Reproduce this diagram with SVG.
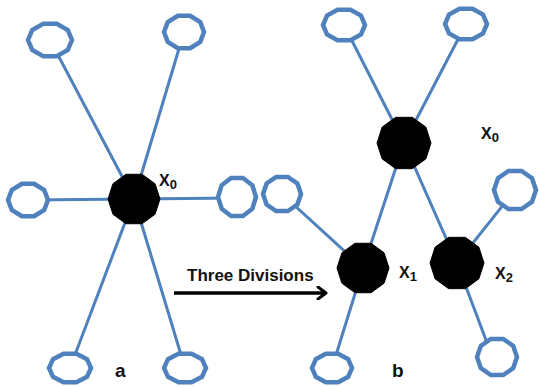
<svg xmlns="http://www.w3.org/2000/svg" xmlns:xlink="http://www.w3.org/1999/xlink" width="539" height="387" viewBox="0 0 539 387">
  <style>
    .edge { stroke: #4f81bd; stroke-width: 3; fill: none; }
    .leaf { fill: #ffffff; stroke: #4f81bd; stroke-width: 4.5; }
    .hub { fill: #000000; stroke: #000000; stroke-width: 1; }
    .lbl { font-family: "Liberation Sans", Arial, sans-serif; font-weight: bold; fill: #111111; }
    .xl { font-size: 16px; }
    .sub { font-size: 13px; }
  </style>
  <defs>
    <!-- unit decagon, scaled per node; stroke width stays constant -->
    <polygon id="dec" vector-effect="non-scaling-stroke"
      points="1,0 0.809,0.588 0.309,0.951 -0.309,0.951 -0.809,0.588 -1,0 -0.809,-0.588 -0.309,-0.951 0.309,-0.951 0.809,-0.588"/>
    <marker id="chev" viewBox="0 0 12 14" refX="10" refY="7" markerWidth="12" markerHeight="14" markerUnits="userSpaceOnUse" orient="auto">
      <path d="M2,1 L10,7 L2,13" fill="none" stroke="#000" stroke-width="3" stroke-linecap="round" stroke-linejoin="round"/>
    </marker>
  </defs>

  <rect width="539" height="387" fill="#ffffff"/>

  <g id="connectors">
    <!-- graph a: star around X0 -->
    <line class="edge" x1="134" y1="199" x2="50" y2="40"/>
    <line class="edge" x1="134" y1="199" x2="184" y2="32"/>
    <line class="edge" x1="134" y1="199" x2="28" y2="200"/>
    <line class="edge" x1="134" y1="199" x2="237" y2="198"/>
    <line class="edge" x1="134" y1="199" x2="70" y2="368"/>
    <line class="edge" x1="134" y1="199" x2="185" y2="368"/>
    <!-- graph b: X0 split into X0, X1, X2 -->
    <line class="edge" x1="404" y1="143" x2="344" y2="25"/>
    <line class="edge" x1="404" y1="143" x2="466" y2="24"/>
    <line class="edge" x1="404" y1="143" x2="363" y2="268"/>
    <line class="edge" x1="404" y1="143" x2="457" y2="263"/>
    <line class="edge" x1="363" y1="268" x2="282" y2="194"/>
    <line class="edge" x1="363" y1="268" x2="332" y2="368"/>
    <line class="edge" x1="457" y1="263" x2="515" y2="190"/>
    <line class="edge" x1="457" y1="263" x2="489" y2="348"/>
    <!-- transition arrow -->
    <line x1="174" y1="293" x2="326" y2="293" stroke="#000" stroke-width="3.5" marker-end="url(#chev)"/>
  </g>

  <!-- graph a -->
  <g id="a-x0"><use xlink:href="#dec" class="hub" transform="translate(134,199) scale(26,26)"/></g>
  <g id="a-n1"><use xlink:href="#dec" class="leaf" transform="translate(50,40) scale(22,17)"/></g>
  <g id="a-n2"><use xlink:href="#dec" class="leaf" transform="translate(184,32) scale(20,17)"/></g>
  <g id="a-n3"><use xlink:href="#dec" class="leaf" transform="translate(28,200) scale(20,17)"/></g>
  <g id="a-n4"><use xlink:href="#dec" class="leaf" transform="translate(237,197) scale(19,20)"/></g>
  <g id="a-n5"><use xlink:href="#dec" class="leaf" transform="translate(70,368) scale(21,15)"/></g>
  <g id="a-n6"><use xlink:href="#dec" class="leaf" transform="translate(185,368) scale(21,15)"/></g>

  <!-- graph b -->
  <g id="b-x0"><use xlink:href="#dec" class="hub" transform="translate(404,143) scale(27,27)"/></g>
  <g id="b-x1"><use xlink:href="#dec" class="hub" transform="translate(363,268) scale(26,26)"/></g>
  <g id="b-x2"><use xlink:href="#dec" class="hub" transform="translate(457,263) scale(27,27)"/></g>
  <g id="b-n1"><use xlink:href="#dec" class="leaf" transform="translate(344,25) scale(21,16)"/></g>
  <g id="b-n2"><use xlink:href="#dec" class="leaf" transform="translate(466,24) scale(21,16)"/></g>
  <g id="b-n3"><use xlink:href="#dec" class="leaf" transform="translate(282,194) scale(19,18)"/></g>
  <g id="b-n4"><use xlink:href="#dec" class="leaf" transform="translate(515,190) scale(21,20)"/></g>
  <g id="b-n5"><use xlink:href="#dec" class="leaf" transform="translate(332,368) scale(20,15)"/></g>
  <g id="b-n6"><use xlink:href="#dec" class="leaf" transform="translate(497,357) scale(20,19)"/></g>

  <!-- labels -->
  <g id="labels">
    <text class="lbl xl" x="159" y="186">X<tspan class="sub" dy="3">0</tspan></text>
    <text class="lbl xl" x="481" y="139">X<tspan class="sub" dy="3">0</tspan></text>
    <text class="lbl xl" x="399" y="278">X<tspan class="sub" dy="3">1</tspan></text>
    <text class="lbl xl" x="495" y="279">X<tspan class="sub" dy="3">2</tspan></text>
    <text class="lbl" x="187" y="281" font-size="17">Three Divisions</text>
    <text class="lbl" x="115" y="377" font-size="19">a</text>
    <text class="lbl" x="392" y="377" font-size="19">b</text>
  </g>
</svg>
